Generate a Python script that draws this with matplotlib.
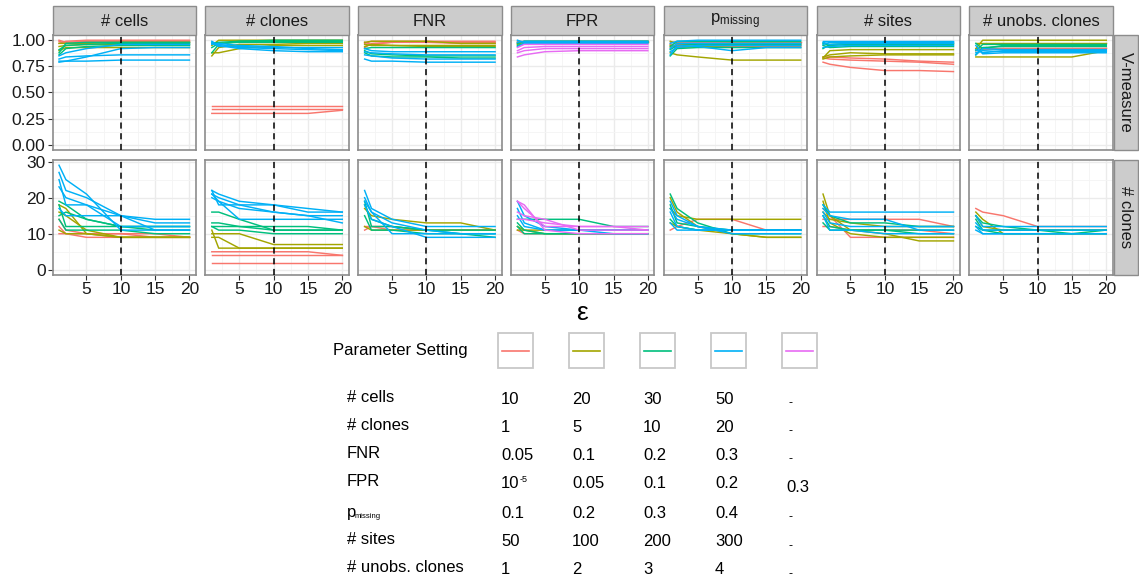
import matplotlib
matplotlib.use("Agg")
import matplotlib.pyplot as plt
from matplotlib.patches import Rectangle
from matplotlib.lines import Line2D

plt.rcParams['font.family'] = ['Liberation Sans', 'DejaVu Sans']
plt.rcParams['mathtext.fontset'] = 'custom'
plt.rcParams['mathtext.rm'] = 'Liberation Sans'
plt.rcParams['mathtext.it'] = 'Liberation Sans:italic'

# epsilon values at which each run was evaluated
eps = [1, 2, 5, 10, 15, 20]

# setting colours (ggplot hue palette) and panel titles
setting_colors = ['#F8766D', '#A3A500', '#00BF7D', '#00B0F6', '#E76BF3']
param_titles = ['# cells', '# clones', 'FNR', 'FPR', r'$\mathregular{p_{missing}}$',
                '# sites', '# unobs. clones']
row_titles = ['V-measure', '# clones']

# (setting index, values over eps) -- V-measure
vm_cells = [
    (0, [1.00, 0.98, 0.99, 0.99, 0.99, 0.99]), (0, [0.97, 0.99, 1.00, 1.00, 1.00, 1.00]),
    (0, [0.99, 0.97, 0.98, 0.98, 0.98, 0.98]),
    (1, [0.90, 0.93, 0.93, 0.93, 0.93, 0.93]), (1, [0.94, 0.95, 0.96, 0.96, 0.96, 0.96]),
    (1, [0.97, 0.97, 0.97, 0.98, 0.98, 0.98]),
    (2, [0.88, 0.97, 0.98, 0.98, 0.98, 0.98]), (2, [0.91, 0.95, 0.96, 0.97, 0.97, 0.97]),
    (2, [0.86, 0.92, 0.94, 0.95, 0.95, 0.95]),
    (3, [0.80, 0.80, 0.80, 0.81, 0.81, 0.81]), (3, [0.82, 0.84, 0.85, 0.86, 0.86, 0.86]),
    (3, [0.79, 0.80, 0.84, 0.92, 0.93, 0.93]), (3, [0.85, 0.88, 0.92, 0.96, 0.96, 0.96]),
]
vm_clones = [
    (0, [0.37, 0.37, 0.37, 0.37, 0.37, 0.37]), (0, [0.34, 0.34, 0.34, 0.34, 0.34, 0.34]),
    (0, [0.30, 0.30, 0.30, 0.30, 0.30, 0.33]),
    (1, [0.85, 0.93, 0.96, 0.96, 0.97, 0.97]), (1, [0.88, 0.88, 0.92, 0.95, 0.95, 0.95]),
    (1, [0.95, 1.00, 1.00, 1.00, 1.00, 1.00]),
    (2, [0.88, 0.96, 0.99, 1.00, 1.00, 1.00]), (2, [0.97, 0.98, 0.99, 0.99, 0.99, 0.99]),
    (2, [0.93, 0.97, 0.98, 0.98, 0.98, 0.98]),
    (3, [0.99, 0.95, 0.92, 0.90, 0.89, 0.89]), (3, [0.97, 0.96, 0.93, 0.92, 0.91, 0.90]),
    (3, [0.98, 0.94, 0.94, 0.93, 0.93, 0.93]), (3, [0.96, 0.97, 0.95, 0.94, 0.92, 0.91]),
]
vm_fnr = [
    (0, [0.97, 0.99, 0.99, 0.99, 0.99, 0.99]), (0, [0.98, 0.96, 0.98, 0.98, 0.98, 0.98]),
    (0, [0.93, 0.97, 0.98, 0.98, 0.97, 0.97]),
    (1, [0.98, 0.99, 0.99, 0.99, 0.97, 0.97]), (1, [0.96, 0.95, 0.95, 0.94, 0.94, 0.94]),
    (1, [0.94, 0.96, 0.95, 0.95, 0.95, 0.95]),
    (2, [0.92, 0.93, 0.93, 0.93, 0.93, 0.93]), (2, [0.90, 0.87, 0.86, 0.85, 0.85, 0.85]),
    (2, [0.88, 0.85, 0.84, 0.84, 0.83, 0.83]),
    (3, [0.92, 0.90, 0.89, 0.89, 0.89, 0.89]), (3, [0.89, 0.88, 0.87, 0.86, 0.86, 0.86]),
    (3, [0.82, 0.80, 0.80, 0.79, 0.79, 0.79]), (3, [0.86, 0.85, 0.83, 0.82, 0.82, 0.82]),
]
vm_fpr = [
    (0, [0.99, 0.99, 0.99, 0.99, 0.99, 0.99]), (0, [0.97, 0.98, 0.98, 0.98, 0.98, 0.98]),
    (1, [0.98, 0.98, 0.98, 0.98, 0.98, 0.98]), (1, [0.96, 0.99, 0.99, 0.99, 0.99, 0.99]),
    (2, [0.97, 0.99, 0.99, 0.99, 0.99, 0.99]), (2, [0.95, 0.97, 0.98, 0.98, 0.98, 0.98]),
    (3, [0.98, 0.99, 0.99, 0.99, 0.99, 0.99]), (3, [0.94, 0.97, 0.97, 0.97, 0.97, 0.97]),
    (3, [1.00, 0.98, 0.98, 0.98, 0.98, 0.98]),
    (4, [0.84, 0.86, 0.89, 0.90, 0.90, 0.90]), (4, [0.88, 0.90, 0.92, 0.92, 0.92, 0.92]),
    (4, [0.90, 0.93, 0.94, 0.94, 0.94, 0.94]), (4, [0.93, 0.96, 0.96, 0.96, 0.96, 0.96]),
]
vm_pmiss = [
    (0, [0.96, 0.94, 0.94, 0.94, 0.94, 0.94]), (0, [0.98, 0.98, 0.98, 0.98, 0.98, 0.98]),
    (0, [0.93, 0.96, 0.96, 0.96, 0.96, 0.96]),
    (1, [0.88, 0.86, 0.84, 0.81, 0.81, 0.81]), (1, [0.99, 0.97, 0.96, 0.97, 0.97, 0.97]),
    (1, [0.95, 0.93, 0.94, 0.95, 0.95, 0.95]),
    (2, [0.85, 0.92, 0.93, 0.93, 0.93, 0.93]), (2, [0.91, 0.95, 0.96, 0.96, 0.96, 0.96]),
    (2, [0.94, 0.99, 0.99, 0.99, 0.99, 0.99]),
    (3, [0.86, 0.95, 0.94, 0.90, 0.93, 0.93]), (3, [0.92, 0.97, 0.97, 0.97, 0.97, 0.97]),
    (3, [0.97, 0.99, 1.00, 1.00, 1.00, 1.00]), (3, [0.89, 0.93, 0.95, 0.95, 0.95, 0.95]),
]
vm_sites = [
    (0, [0.79, 0.77, 0.74, 0.71, 0.71, 0.70]), (0, [0.83, 0.82, 0.81, 0.80, 0.79, 0.77]),
    (0, [0.84, 0.84, 0.83, 0.82, 0.80, 0.79]),
    (1, [0.82, 0.84, 0.85, 0.86, 0.86, 0.86]), (1, [0.84, 0.86, 0.88, 0.87, 0.87, 0.87]),
    (1, [0.83, 0.90, 0.91, 0.91, 0.91, 0.91]),
    (2, [0.95, 0.93, 0.94, 0.94, 0.94, 0.94]), (2, [0.92, 0.96, 0.97, 0.97, 0.97, 0.97]),
    (2, [0.97, 0.95, 0.96, 0.96, 0.96, 0.96]),
    (3, [0.96, 0.98, 0.98, 0.98, 0.98, 0.98]), (3, [0.98, 0.96, 0.97, 0.97, 0.97, 0.97]),
    (3, [0.93, 0.94, 0.95, 0.95, 0.95, 0.95]), (3, [0.99, 0.99, 0.99, 0.99, 0.99, 0.99]),
]
vm_unobs = [
    (0, [0.93, 0.93, 0.93, 0.93, 0.93, 0.93]), (0, [0.90, 0.91, 0.92, 0.92, 0.92, 0.92]),
    (1, [0.92, 1.00, 1.00, 1.00, 1.00, 1.00]), (1, [0.84, 0.84, 0.84, 0.84, 0.84, 0.90]),
    (1, [0.97, 0.97, 0.97, 0.97, 0.97, 0.97]),
    (2, [0.97, 0.92, 0.95, 0.95, 0.95, 0.95]), (2, [0.86, 0.93, 0.94, 0.94, 0.94, 0.94]),
    (2, [0.90, 0.96, 0.96, 0.96, 0.96, 0.96]),
    (3, [0.88, 0.90, 0.89, 0.89, 0.89, 0.89]), (3, [0.86, 0.92, 0.91, 0.91, 0.91, 0.91]),
    (3, [0.91, 0.88, 0.90, 0.90, 0.90, 0.90]), (3, [0.95, 0.87, 0.88, 0.88, 0.88, 0.88]),
]

# (setting index, values over eps) -- inferred number of clones
nc_cells = [
    (0, [12, 10, 9, 9, 9, 9]), (0, [14, 11, 10, 10, 10, 9]), (0, [10, 10, 10, 10, 9, 9]),
    (1, [18, 17, 10, 9, 9, 9]), (1, [16, 15, 11, 9, 9, 9]), (1, [11, 10, 10, 9, 9, 9]),
    (2, [19, 18, 14, 12, 12, 12]), (2, [18, 12, 12, 12, 12, 12]),
    (2, [15, 16, 14, 12, 11, 11]), (2, [14, 11, 11, 11, 10, 10]),
    (3, [29, 25, 21, 11, 11, 11]), (3, [27, 22, 20, 15, 11, 11]),
    (3, [23, 20, 18, 15, 14, 14]), (3, [17, 15, 15, 15, 13, 13]),
    (3, [25, 18, 18, 12, 12, 12]),
]
nc_clones = [
    (0, [5, 5, 5, 5, 5, 4]), (0, [4, 4, 4, 4, 4, 4]), (0, [2, 2, 2, 2, 2, 2]),
    (1, [11, 6, 6, 6, 6, 6]), (1, [10, 10, 10, 7, 7, 7]), (1, [9, 9, 6, 6, 6, 6]),
    (2, [16, 16, 14, 11, 11, 11]), (2, [13, 13, 12, 11, 11, 11]),
    (2, [12, 11, 11, 10, 10, 10]), (2, [12, 12, 12, 12, 12, 11]),
    (3, [22, 21, 19, 18, 17, 16]), (3, [21, 20, 18, 18, 16, 16]),
    (3, [22, 18, 18, 16, 15, 15]), (3, [21, 19, 14, 14, 14, 14]),
    (3, [20, 19, 17, 16, 15, 13]),
]
nc_fnr = [
    (0, [11, 12, 12, 11, 11, 11]), (0, [12, 12, 11, 11, 11, 11]),
    (1, [17, 15, 14, 13, 13, 11]), (1, [12, 11, 11, 11, 11, 11]),
    (2, [19, 12, 12, 11, 11, 11]), (2, [18, 14, 12, 11, 10, 10]), (2, [15, 11, 11, 10, 10, 9]),
    (3, [22, 17, 14, 12, 12, 12]), (3, [20, 16, 13, 11, 10, 10]),
    (3, [19, 16, 10, 10, 10, 10]), (3, [18, 14, 12, 9, 9, 9]),
]
nc_fpr = [
    (0, [11, 10, 10, 10, 10, 10]),
    (1, [11, 11, 10, 10, 10, 10]), (1, [12, 11, 11, 11, 11, 11]),
    (2, [14, 14, 14, 14, 12, 12]), (2, [12, 10, 10, 10, 10, 10]), (2, [13, 11, 10, 10, 10, 10]),
    (3, [19, 15, 12, 11, 11, 11]), (3, [17, 13, 11, 11, 11, 11]), (3, [15, 12, 11, 11, 10, 10]),
    (4, [19, 17, 12, 12, 12, 12]), (4, [19, 18, 11, 10, 10, 10]),
    (4, [16, 15, 14, 11, 11, 11]), (4, [14, 14, 13, 12, 12, 11]),
]
nc_pmiss = [
    (0, [11, 12, 14, 14, 11, 11]),
    (1, [17, 15, 14, 14, 14, 14]), (1, [13, 12, 11, 10, 9, 9]), (1, [20, 16, 12, 10, 9, 9]),
    (2, [21, 17, 13, 10, 10, 10]), (2, [18, 13, 12, 11, 11, 11]), (2, [14, 12, 11, 11, 11, 11]),
    (3, [19, 15, 12, 11, 11, 11]), (3, [16, 12, 11, 11, 11, 11]),
    (3, [17, 14, 12, 10, 10, 10]), (3, [13, 11, 11, 11, 11, 11]),
]
nc_sites = [
    (0, [17, 15, 9, 9, 9, 9]), (0, [14, 14, 14, 14, 14, 12]), (0, [12, 12, 11, 11, 11, 10]),
    (1, [21, 15, 11, 10, 8, 8]), (1, [19, 13, 10, 9, 9, 9]), (1, [16, 14, 13, 12, 12, 12]),
    (2, [18, 15, 13, 13, 12, 12]), (2, [15, 12, 11, 11, 11, 11]), (2, [13, 11, 11, 11, 10, 10]),
    (3, [18, 16, 16, 16, 16, 16]), (3, [17, 15, 14, 14, 11, 11]),
    (3, [16, 13, 12, 12, 12, 12]), (3, [15, 11, 11, 10, 10, 10]),
]
nc_unobs = [
    (0, [17, 16, 15, 12, 12, 12]),
    (1, [16, 14, 10, 10, 10, 10]), (1, [15, 12, 11, 11, 11, 11]),
    (2, [14, 11, 10, 10, 10, 11]), (2, [15, 13, 12, 11, 11, 11]), (2, [12, 11, 11, 11, 10, 10]),
    (3, [15, 12, 12, 12, 12, 12]), (3, [13, 11, 11, 11, 11, 11]),
    (3, [12, 10, 10, 10, 10, 10]), (3, [11, 10, 10, 10, 10, 10]),
]

vm_panels = [vm_cells, vm_clones, vm_fnr, vm_fpr, vm_pmiss, vm_sites, vm_unobs]
nc_panels = [nc_cells, nc_clones, nc_fnr, nc_fpr, nc_pmiss, nc_sites, nc_unobs]

# parameter values per setting, shown in the table below the panels
table_labels = ['# cells', '# clones', 'FNR', 'FPR', 'p', '# sites', '# unobs. clones']
table_values = [
    ['10', '20', '30', '50', '-'],
    ['1', '5', '10', '20', '-'],
    ['0.05', '0.1', '0.2', '0.3', '-'],
    ['10', '0.05', '0.1', '0.2', '0.3'],
    ['0.1', '0.2', '0.3', '0.4', '-'],
    ['50', '100', '200', '300', '-'],
    ['1', '2', '3', '4', '-'],
]

W, H = 1139, 586
fig = plt.figure(figsize=(W / 100, H / 100), dpi=100)


def px_box(x0, y0, x1, y1):
    # pixel box (top-left origin) -> figure fraction rect
    return [x0 / W, 1 - y1 / H, (x1 - x0) / W, (y1 - y0) / H]


def px_rect(x0, y0, x1, y1, fc, ec, lw=1.0):
    fig.add_artist(Rectangle((x0 / W, 1 - y1 / H), (x1 - x0) / W, (y1 - y0) / H,
                             transform=fig.transFigure, facecolor=fc, edgecolor=ec,
                             linewidth=lw))


def px_text(x, y, s, **kw):
    fig.text(x / W, 1 - y / H, s, **kw)


strip_fc, strip_ec = '#CCCCCC', '#8C8C8C'
border_col = '#8C8C8C'
tick_col = '#333333'
rows_px = [(35, 150), (160, 275)]
ylims = [(-0.05, 1.05), (-1.45, 30.45)]
yticks = [[0, 0.25, 0.5, 0.75, 1.0], [0, 10, 20, 30]]
yminor = [[0.125, 0.375, 0.625, 0.875], [5, 15, 25]]
ylabels = [['0.00', '0.25', '0.50', '0.75', '1.00'], ['0', '10', '20', '30']]

for r, panels in enumerate([vm_panels, nc_panels]):
    y0, y1 = rows_px[r]
    for c, series in enumerate(panels):
        x0 = 52.5 + c * 152.8
        x1 = x0 + 143.5
        ax = fig.add_axes(px_box(x0, y0, x1, y1))
        ax.set_xlim(0.05, 20.95)
        ax.set_ylim(*ylims[r])
        for g in [2.5, 7.5, 12.5, 17.5]:
            ax.axvline(g, color='#F4F4F4', lw=0.6, zorder=0)
        for g in [5, 10, 15, 20]:
            ax.axvline(g, color='#EBEBEB', lw=1.0, zorder=0)
        for g in yminor[r]:
            ax.axhline(g, color='#F4F4F4', lw=0.6, zorder=0)
        for g in yticks[r]:
            ax.axhline(g, color='#EBEBEB', lw=1.0, zorder=0)
        for s, vals in series:
            ax.plot(eps, vals, color=setting_colors[s], lw=1.05, zorder=2)
        ax.axvline(10, color='black', lw=1.1, ls=(0, (4, 3)), zorder=3)

        ax.set_xticks([5, 10, 15, 20])
        ax.set_yticks(yticks[r])
        ax.tick_params(length=3.5, width=0.8, color=tick_col, labelsize=12.5,
                       labelcolor='#1a1a1a', pad=1.5)
        if r == 0:
            ax.tick_params(axis='x', length=0, labelbottom=False)
        if c == 0:
            ax.set_yticklabels(ylabels[r])
        else:
            ax.tick_params(axis='y', length=0, labelleft=False)
        for sp in ax.spines.values():
            sp.set_color(border_col)
            sp.set_linewidth(1.2)

        if r == 0:
            px_rect(x0, 6, x1, 35, strip_fc, strip_ec, 1.0)
            px_text((x0 + x1) / 2, 21, param_titles[c], ha='center', va='center',
                    fontsize=12, color='#1a1a1a')
    px_rect(1113.5, y0, 1137.5, y1, strip_fc, strip_ec, 1.0)
    px_text(1125.5, (y0 + y1) / 2, row_titles[r], ha='center', va='center',
            rotation=270, fontsize=12, color='#1a1a1a')

px_text(582, 313, 'ε', ha='center', va='center', fontsize=19)

# legend row
px_text(333, 350.5, 'Parameter Setting', ha='left', va='center', fontsize=12)
key_x = [498, 568.5, 639.5, 711, 782]
for kx, col in zip(key_x, setting_colors):
    px_rect(kx, 333, kx + 35, 368, 'white', '#C8C8C8', 1.3)
    fig.add_artist(Line2D([(kx + 4) / W, (kx + 31) / W], [1 - 350.5 / H] * 2,
                          transform=fig.transFigure, color=col, lw=1.2))

# parameter table
col_x = [501, 572, 643, 715, 786]
row_y = [397, 425, 453.5, 482, 511, 540, 568]
for i, (lab, vals, ry) in enumerate(zip(table_labels, table_values, row_y)):
    if lab == 'p':
        px_text(347, ry + 1, 'p', ha='left', va='center', fontsize=12)
        px_text(354.5, ry + 5.5, 'missing', ha='left', va='center', fontsize=5.5)
    else:
        px_text(347, ry, lab, ha='left', va='center', fontsize=12)
    for j, (cx, v) in enumerate(zip(col_x, vals)):
        if v == '-':
            px_text(cx + 2, ry + 6, v, ha='left', va='center', fontsize=9)
        elif lab == 'FPR' and j == 4:
            px_text(cx, ry + 6, v, ha='left', va='center', fontsize=12)
        elif lab == 'FPR' and j == 0:
            # 10^-5 with a small raised exponent
            px_text(cx, ry + 2, v, ha='left', va='center', fontsize=12)
            px_text(cx + 19, ry - 3, '-5', ha='left', va='center', fontsize=6.5)
        else:
            px_text(cx, ry + 2, v, ha='left', va='center', fontsize=12)

fig.savefig('out.png', dpi=100)
